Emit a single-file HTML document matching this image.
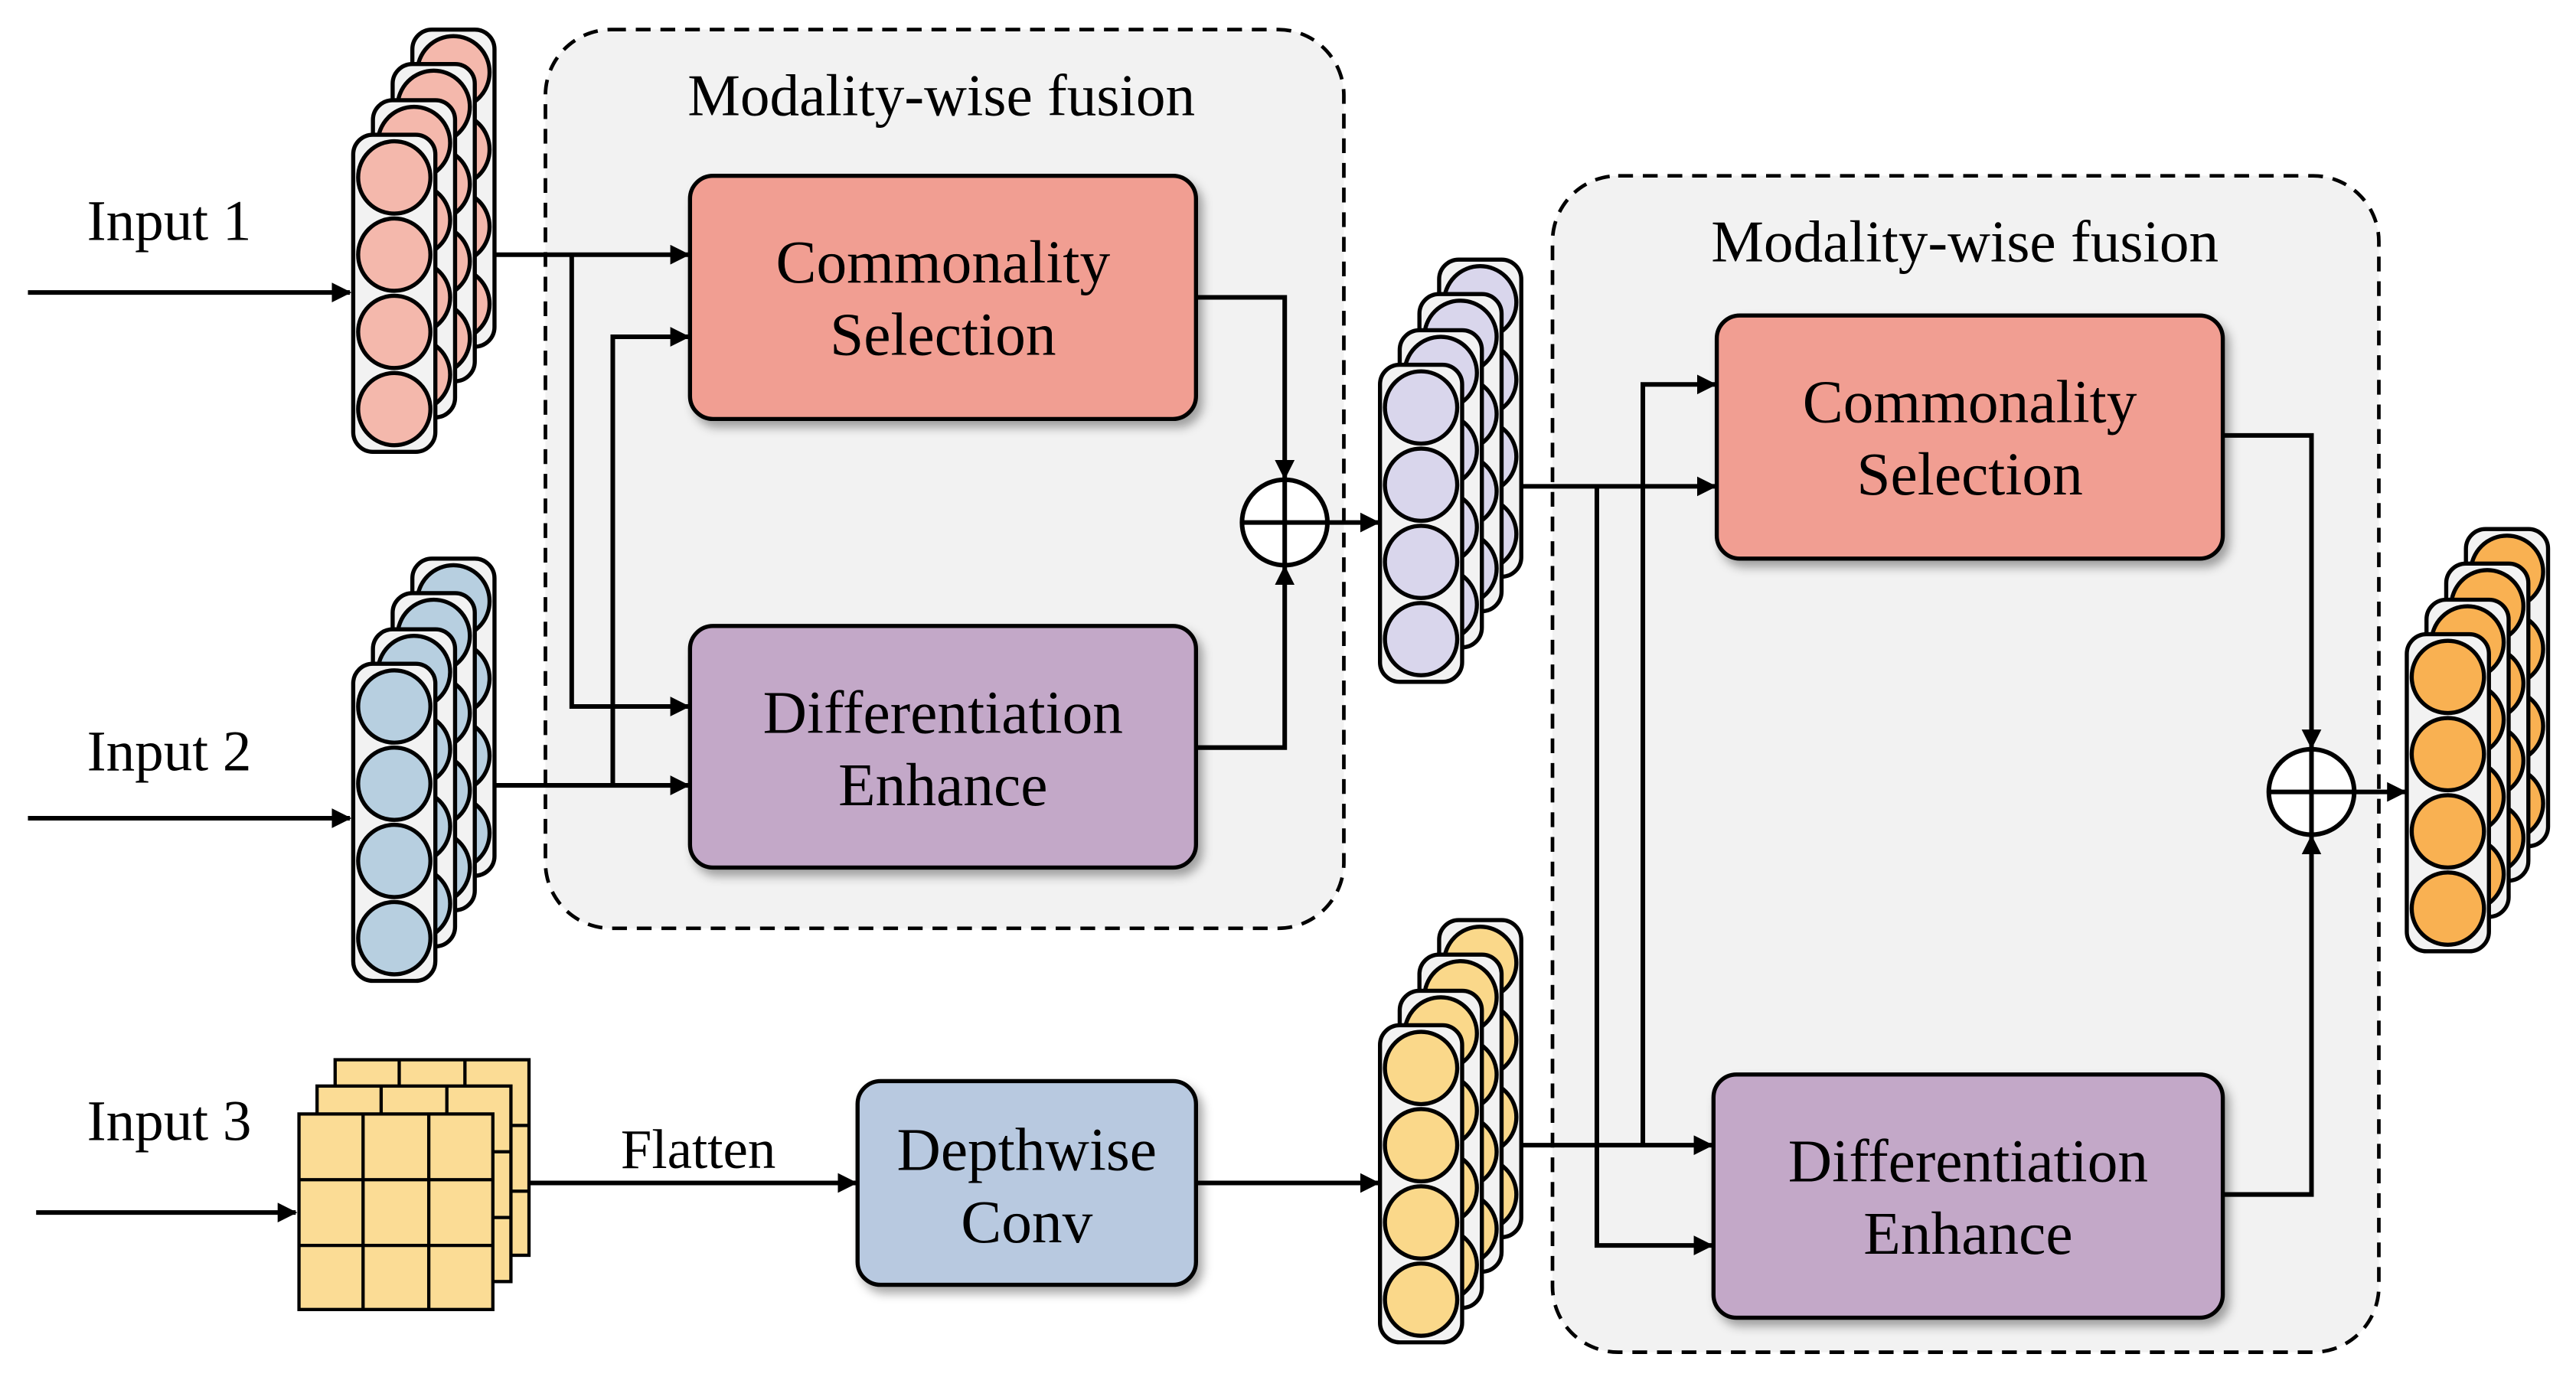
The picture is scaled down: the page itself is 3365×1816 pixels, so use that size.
<!DOCTYPE html>
<html><head><meta charset="utf-8"><style>
html,body{margin:0;padding:0;background:#fff}
svg{display:block}
text{font-family:"Liberation Serif",serif;fill:#000}
</style></head><body>
<svg width="3365" height="1816" viewBox="0 0 1568 846" preserveAspectRatio="none" xmlns="http://www.w3.org/2000/svg">
<defs>
<marker id="a" markerWidth="12" markerHeight="12" refX="11" refY="6" orient="auto" markerUnits="userSpaceOnUse"><path d="M0,0 L12,6 L0,12 z" fill="#000"/></marker>
<g id="L">
<rect x="0" y="0" width="50" height="193" rx="12" fill="#f2f2f2" stroke="#000" stroke-width="2.5"/>
<circle cx="25" cy="26" r="22" fill="currentColor" stroke="#000" stroke-width="2.5"/>
<circle cx="25" cy="73" r="22" fill="currentColor" stroke="#000" stroke-width="2.5"/>
<circle cx="25" cy="120" r="22" fill="currentColor" stroke="#000" stroke-width="2.5"/>
<circle cx="25" cy="167" r="22" fill="currentColor" stroke="#000" stroke-width="2.5"/>
</g>
<g id="S"><use href="#L" x="36" y="-64"/><use href="#L" x="24" y="-43"/><use href="#L" x="12" y="-21"/><use href="#L" x="0" y="0"/></g>
<g id="G">
<rect x="0" y="0" width="118" height="119" fill="#fbdc95" stroke="#000" stroke-width="2"/>
<path d="M39,0V119M79,0V119M0,40H118M0,80H118" stroke="#000" stroke-width="2"/>
</g>
<filter id="sh" x="-10%" y="-10%" width="130%" height="130%"><feDropShadow dx="3" dy="4" stdDeviation="3" flood-opacity="0.35"/></filter>
</defs>

<rect x="332" y="18" width="486" height="547" rx="40" fill="#f2f2f2" stroke="#000" stroke-width="2.2" stroke-dasharray="9,6"/>
<rect x="945" y="107" width="503" height="716" rx="40" fill="#f2f2f2" stroke="#000" stroke-width="2.2" stroke-dasharray="9,6"/>
<text x="573" y="70" font-size="36" text-anchor="middle">Modality-wise fusion</text>
<text x="1196" y="159" font-size="36" text-anchor="middle">Modality-wise fusion</text>

<text x="103" y="146" font-size="35" text-anchor="middle">Input 1</text>
<text x="103" y="469" font-size="35" text-anchor="middle">Input 2</text>
<text x="103" y="694" font-size="35" text-anchor="middle">Input 3</text>
<text x="425" y="711" font-size="34" text-anchor="middle">Flatten</text>

<g stroke="#000" stroke-width="2.8" fill="none">
<path d="M17,178H213" marker-end="url(#a)"/>
<path d="M17,498H213" marker-end="url(#a)"/>
<path d="M22,738H180" marker-end="url(#a)"/>
<path d="M280,155H419" marker-end="url(#a)"/>
<path d="M348,155V430H419" marker-end="url(#a)"/>
<path d="M280,478H419" marker-end="url(#a)"/>
<path d="M373,478V205H419" marker-end="url(#a)"/>
<path d="M728,181H782V291" marker-end="url(#a)"/>
<path d="M728,455H782V345" marker-end="url(#a)"/>
<path d="M808,318H839" marker-end="url(#a)"/>
<path d="M322,720H521" marker-end="url(#a)"/>
<path d="M728,720H839" marker-end="url(#a)"/>
<path d="M905,296H1044" marker-end="url(#a)"/>
<path d="M972,296V758H1042" marker-end="url(#a)"/>
<path d="M915,697H1042" marker-end="url(#a)"/>
<path d="M1000,697V234H1044" marker-end="url(#a)"/>
<path d="M1353,265H1407V455" marker-end="url(#a)"/>
<path d="M1353,727H1407V509" marker-end="url(#a)"/>
<path d="M1433,482H1464" marker-end="url(#a)"/>
</g>

<g stroke="#000" stroke-width="2.8" fill="#fff">
<circle cx="782" cy="318" r="26"/><path d="M756,318H808M782,292V344"/>
<circle cx="1407" cy="482" r="26"/><path d="M1381,482H1433M1407,456V508"/>
</g>

<g stroke="#000" stroke-width="2.5" filter="url(#sh)">
<rect x="420" y="107" width="308" height="148" rx="14" fill="#f19e92"/>
<rect x="420" y="381" width="308" height="147" rx="14" fill="#c3a8c8"/>
<rect x="1045" y="192" width="308" height="148" rx="14" fill="#f19e92"/>
<rect x="1043" y="654" width="310" height="148" rx="14" fill="#c3a8c8"/>
<rect x="522" y="658" width="206" height="124" rx="14" fill="#b8c9e0"/>
</g>
<g font-size="37" text-anchor="middle">
<text x="574" y="172">Commonality</text><text x="574" y="216">Selection</text>
<text x="574" y="446">Differentiation</text><text x="574" y="490">Enhance</text>
<text x="1199" y="257">Commonality</text><text x="1199" y="301">Selection</text>
<text x="1198" y="719">Differentiation</text><text x="1198" y="763">Enhance</text>
<text x="625" y="712">Depthwise</text><text x="625" y="756">Conv</text>
</g>

<use href="#S" x="215" y="82" style="color:#f4b8ac"/>
<use href="#S" x="215" y="404" style="color:#b7cfe0"/>
<use href="#S" x="840" y="222" style="color:#d9d6ec"/>
<use href="#S" x="840" y="624" style="color:#fad88a"/>
<use href="#S" x="1465" y="386" style="color:#f9b152"/>

<use href="#G" x="204" y="645"/>
<use href="#G" x="193" y="661"/>
<use href="#G" x="182" y="678"/>
</svg>
</body></html>
